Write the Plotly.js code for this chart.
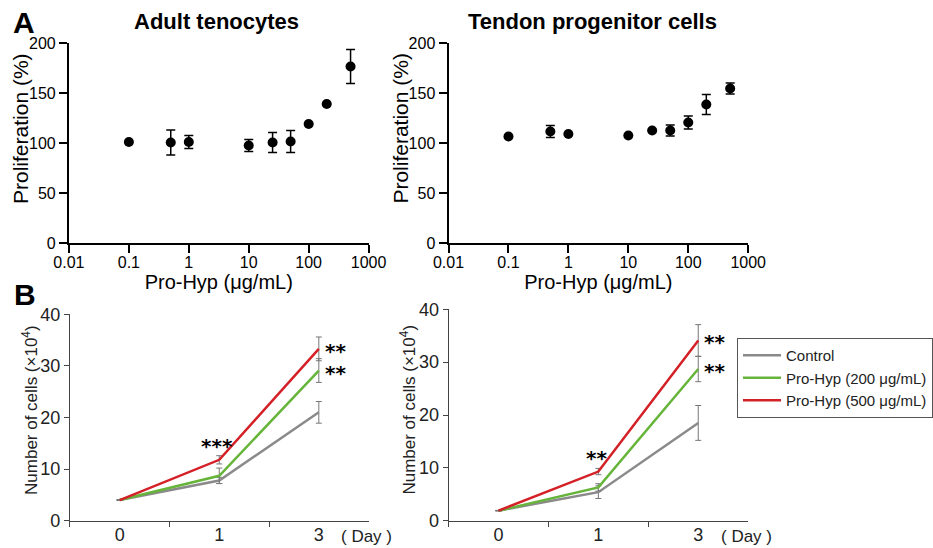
<!DOCTYPE html>
<html>
<head>
<meta charset="utf-8">
<script src="https://cdn.plot.ly/plotly-3.0.1.min.js"></script>
<style>html,body{margin:0;padding:0;background:#fff;}#chart{width:933px;height:548px;}</style>
</head>
<body>
<div id="chart"></div>
<script>
// ---- Panel A data ----
const conc = [0.1, 0.5, 1, 10, 25, 50, 100, 200, 500];
const adultProlif = [101, 100.5, 101, 97.5, 100.5, 101.5, 119, 139, 176.5];
const adultErr = [0, 12.5, 6.5, 6, 10, 11, 0, 0, 17];
const progProlif = [106.5, 111.5, 109, 107.5, 112.5, 112.5, 120.5, 138.5, 154.5];
const progErr = [0, 6, 0, 0, 0, 5.5, 6.5, 10, 5.5];
const concTicks = [0.01, 0.1, 1, 10, 100, 1000];
const concTickText = ["0.01", "0.1", "1", "10", "100", "1000"];

// ---- Panel B data ----
const days = ["0", "1", "3"];
const seriesNames = ["Control", "Pro-Hyp (200 μg/mL)", "Pro-Hyp (500 μg/mL)"];
const adultCells = [[4.0, 7.8, 21.0], [4.0, 8.7, 29.1], [4.0, 11.8, 33.3]];
const adultCellsErr = [[0, 0.6, 2.1], [0, 1.5, 2.3], [0, 0.8, 2.3]];
const progCells = [[1.9, 5.4, 18.5], [1.9, 6.3, 28.7], [1.9, 9.3, 34.1]];
const progCellsErr = [[0, 1.2, 3.3], [0, 0.7, 2.4], [0, 0.6, 3.0]];
// significance marks: [panel, day, y, text, placement]
const sigMarks = [
  ["L", "1", 11.8, "***", "top"],
  ["L", "3", 33.3, "**", "right"],
  ["L", "3", 29.1, "**", "right"],
  ["R", "1", 9.3, "**", "top"],
  ["R", "3", 34.1, "**", "right"],
  ["R", "3", 28.7, "**", "right"]
];

const lineColors = ["#8a8a8a", "#66b53a", "#d42027"];
const W = 933, H = 548;
const px = v => v / W;
const py = v => (H - v) / H;
const sans = "Liberation Sans, Arial, sans-serif";
const starFont = "DejaVu Sans, Liberation Sans, sans-serif";

const traces = [];
function dotTrace(y, e, xa, ya) {
  return {
    x: conc, y: y, type: "scatter", mode: "markers", xaxis: xa, yaxis: ya,
    marker: {color: "#000", size: 10},
    error_y: {type: "data", array: e, visible: true, color: "#000", thickness: 1.5, width: 4.5},
    showlegend: false, hoverinfo: "x+y"
  };
}
traces.push(dotTrace(adultProlif, adultErr, "x", "y"));
traces.push(dotTrace(progProlif, progErr, "x2", "y2"));

function cellTraces(vals, errs, xa, ya, legend) {
  vals.forEach((v, i) => {
    traces.push({
      x: days, y: v, type: "scatter", mode: "lines", xaxis: xa, yaxis: ya,
      name: seriesNames[i], line: {color: lineColors[i], width: 2.5},
      error_y: {type: "data", array: errs[i], visible: true, color: "#777", thickness: 1, width: 3},
      showlegend: legend
    });
  });
}
cellTraces(adultCells, adultCellsErr, "x3", "y3", false);
cellTraces(progCells, progCellsErr, "x4", "y4", true);

const topX = {
  type: "log", range: [-2, 3], tickvals: concTicks, ticktext: concTickText,
  ticks: "outside", ticklen: 8, tickwidth: 2, tickcolor: "#000", ticklabelstandoff: -4,
  showline: true, linewidth: 2, linecolor: "#000", showgrid: false, zeroline: false,
  tickfont: {family: sans, size: 16, color: "#000"},
  title: {text: "Pro-Hyp (μg/mL)", font: {family: sans, size: 20, color: "#000"}, standoff: 0}
};
const topY = {
  range: [0, 200], tickvals: [0, 50, 100, 150, 200],
  ticks: "outside", ticklen: 8, tickwidth: 2, tickcolor: "#000",
  showline: true, linewidth: 2, linecolor: "#000", showgrid: false, zeroline: false,
  tickfont: {family: sans, size: 16, color: "#000"}
};
const botX = {
  type: "category", categoryorder: "array", categoryarray: days, range: [-0.5, 2.5],
  tickson: "boundaries", ticks: "outside", ticklen: 5, tickwidth: 1, tickcolor: "#444",
  showline: true, linewidth: 1, linecolor: "#444", showgrid: false, zeroline: false,
  ticklabelstandoff: -2,
  tickfont: {family: sans, size: 18, color: "#222"}
};
const botY = {
  range: [0, 40], tickvals: [0, 10, 20, 30, 40],
  ticks: "outside", ticklen: 5, tickwidth: 1, tickcolor: "#444",
  showline: true, linewidth: 1, linecolor: "#444", showgrid: false, zeroline: false,
  tickfont: {family: sans, size: 18, color: "#222"}
};

const layout = {
  width: W, height: H, margin: {l: 0, r: 0, t: 0, b: 0},
  paper_bgcolor: "#fff", plot_bgcolor: "rgba(0,0,0,0)",
  xaxis: Object.assign({}, topX, {domain: [px(69), px(369)], anchor: "y"}),
  yaxis: Object.assign({}, topY, {domain: [py(243), py(43)], anchor: "x"}),
  xaxis2: Object.assign({}, topX, {domain: [px(449), px(749)], anchor: "y2"}),
  yaxis2: Object.assign({}, topY, {domain: [py(243), py(43)], anchor: "x2"}),
  xaxis3: Object.assign({}, botX, {domain: [px(70), px(369)], anchor: "y3"}),
  yaxis3: Object.assign({}, botY, {domain: [py(520.7), py(314.3)], anchor: "x3"}),
  xaxis4: Object.assign({}, botX, {domain: [px(449), px(749)], anchor: "y4"}),
  yaxis4: Object.assign({}, botY, {domain: [py(520.7), py(309.3)], anchor: "x4"}),
  legend: {
    x: px(738), y: py(338), xanchor: "left", yanchor: "top",
    bgcolor: "#fff", bordercolor: "#555", borderwidth: 1, itemwidth: 38,
    font: {family: sans, size: 15, color: "#222"}, tracegroupgap: 0
  },
  annotations: [
    {text: "<b>A</b>", x: 24, y: 22},
    {text: "<b>B</b>", x: 25, y: 295},
    {text: "<b>Adult tenocytes</b>", x: 217, y: 21, size: 22},
    {text: "<b>Tendon progenitor cells</b>", x: 593, y: 21, size: 22},
    {text: "Proliferation (%)", x: 20, y: 128, size: 21, angle: -90},
    {text: "Proliferation (%)", x: 400, y: 128, size: 21, angle: -90},
    {text: "Number of cells (×10<sup>4</sup>)", x: 30, y: 410, size: 17, angle: -90, color: "#222"},
    {text: "Number of cells (×10<sup>4</sup>)", x: 408, y: 410, size: 17, angle: -90, color: "#222"},
    {text: "( Day )", x: 367, y: 536, size: 17, color: "#222"},
    {text: "( Day )", x: 747, y: 536, size: 17, color: "#222"}
  ].map(a => ({
    text: a.text, x: px(a.x), y: py(a.y), xref: "paper", yref: "paper", showarrow: false,
    xanchor: "center", yanchor: "middle", textangle: a.angle || 0,
    font: {family: sans, size: a.size || 30, color: a.color || "#000"}
  }))
};
sigMarks.forEach(m => {
  const isTop = m[4] === "top";
  layout.annotations.push({
    text: "<b>" + m[3] + "</b>", x: days.indexOf(m[1]), y: m[2],
    xref: m[0] === "L" ? "x3" : "x4", yref: m[0] === "L" ? "y3" : "y4",
    showarrow: false, xanchor: isTop ? "center" : "left", yanchor: isTop ? "bottom" : "middle",
    xshift: isTop ? -2 : 4, yshift: isTop ? 0 : -2,
    font: {family: starFont, size: 20, color: "#000"}
  });
});

Plotly.newPlot("chart", traces, layout, {displayModeBar: false, staticPlot: true});
</script>
</body>
</html>
